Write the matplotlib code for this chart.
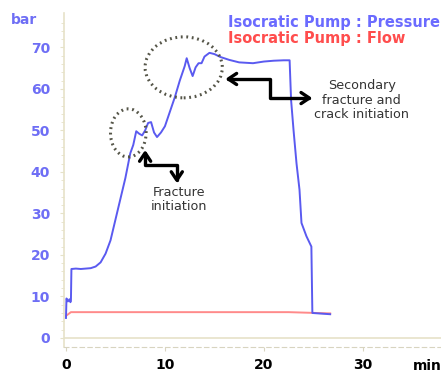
import matplotlib
matplotlib.use("Agg")
import matplotlib.pyplot as plt
from matplotlib.patches import Ellipse, FancyArrowPatch
from matplotlib.path import Path

# ---- data ----
pressure_time = [0.0, 0.05, 0.2, 0.35, 0.45, 0.5, 0.55, 1.0, 1.5, 2.0, 2.5, 3.0, 3.5, 4.0,
                 4.5, 5.0, 5.5, 6.0, 6.5, 6.8, 7.1, 7.4, 7.7, 8.0, 8.3, 8.6, 8.9, 9.2,
                 9.6, 10.0, 10.5, 11.0, 11.5, 12.0, 12.2, 12.5, 12.8, 13.1, 13.4, 13.7,
                 14.0, 14.5, 15.0, 15.6, 16.5, 17.5, 18.9, 20.0, 21.0, 22.0, 22.6, 22.75,
                 23.0, 23.3, 23.6, 23.8, 24.3, 24.8, 24.9, 25.5, 26.7]
pressure_bar = [4.8, 9.5, 8.8, 9.3, 8.6, 9.0, 16.6, 16.7, 16.6, 16.7, 16.8, 17.2, 18.2, 20.3,
                23.5, 28.5, 33.5, 38.5, 44.5, 46.5, 49.8, 49.2, 48.8, 50.0, 51.8, 52.0, 49.5, 48.4,
                49.5, 51.0, 54.5, 58.0, 62.0, 65.5, 67.4, 65.0, 63.1, 65.2, 66.2, 66.2,
                67.8, 68.7, 68.4, 67.7, 67.0, 66.4, 66.2, 66.6, 66.8, 66.9, 66.9, 57.3,
                50.0, 42.0, 35.7, 27.7, 24.5, 22.0, 6.0, 5.9, 5.7]
flow_time = [0.0, 0.5, 22.5, 26.7]
flow_value = [5.3, 6.2, 6.2, 5.9]
y_ticks = [0, 10, 20, 30, 40, 50, 60, 70]
x_ticks = [0, 10, 20, 30]
legend_labels = ["Isocratic Pump : Pressure", "Isocratic Pump : Flow"]

W, H = 441, 374
fig = plt.figure(figsize=(W / 100, H / 100), dpi=100)
ax = fig.add_axes([64 / W, 1 - 347 / H, 377 / W, 334 / H])

blue = "#5a5af0"
tick_blue = "#6e6ef5"
red = "#ff8a8a"
beige = "#e6e2c8"

ax.plot(flow_time, flow_value, color=red, lw=1.4, zorder=2)
ax.plot(pressure_time, pressure_bar, color=blue, lw=1.4, zorder=3)
ax.axhline(0, color=beige, lw=1.2, zorder=1)

ax.set_xlim(-0.2, 37.9)
ax.set_ylim(-2.2, 78.3)

for s in ["top", "right"]:
    ax.spines[s].set_visible(False)
ax.spines["left"].set_color(beige)
ax.spines["left"].set_linewidth(1.2)
ax.spines["bottom"].set_color("#d8d4c0")
ax.spines["bottom"].set_linestyle((0, (4, 3)))
ax.spines["bottom"].set_linewidth(0.8)

ax.set_yticks(y_ticks)
ax.set_yticklabels([str(v) for v in y_ticks], color=tick_blue, fontweight="bold", fontsize=10)
ax.set_xticks(x_ticks)
ax.set_xticklabels([str(v) for v in x_ticks], color="black", fontweight="bold", fontsize=10)
ax.tick_params(axis="y", length=3, color=beige, pad=7)
ax.tick_params(axis="x", length=3, color="#d8d4c0", pad=5)
ax.set_yticks([v + 2 * k for v in y_ticks[:-1] for k in range(1, 5)] + [72, 74, 76], minor=True)
ax.tick_params(axis="y", which="minor", length=2, color=beige)

fig.text(11 / W, 1 - 20 / H, "bar", color=tick_blue, fontweight="bold", fontsize=10, va="center")
fig.text(427 / W, 1 - 366 / H, "min", color="black", fontweight="bold", fontsize=10,
         va="center", ha="center")

fig.text(228 / W, 1 - 23 / H, legend_labels[0], color="#6b6bff", fontweight="bold",
         fontsize=10.5, va="center")
fig.text(228 / W, 1 - 38 / H, legend_labels[1], color="#ff4d4d", fontweight="bold",
         fontsize=10.5, va="center")

# annotation ellipses
for (cx, cy, w, h) in [(6.3, 49.4, 3.6, 11.6), (11.9, 65.2, 7.8, 14.7)]:
    ax.add_patch(Ellipse((cx, cy), w, h, fill=False, edgecolor="#555548",
                         lw=2.2, linestyle=(0, (0.6, 1.2)), zorder=4))

# bent double arrows
arrow_paths = [
    [(8.0, 45.3), (8.0, 41.7), (11.2, 41.7), (11.2, 37.3)],
    [(16.1, 62.4), (20.6, 62.4), (20.6, 57.8), (24.9, 57.8)],
]
for verts in arrow_paths:
    codes = [Path.MOVETO] + [Path.LINETO] * (len(verts) - 1)
    arr = FancyArrowPatch(path=Path(verts, codes), arrowstyle="<->,head_length=6,head_width=4",
                          color="black", lw=2.4, transform=ax.transData, zorder=5,
                          shrinkA=0, shrinkB=0)
    ax.add_patch(arr)

ax.text(11.4, 33.3, "Fracture\ninitiation", ha="center", va="center", fontsize=9.2,
        color="#333333", linespacing=1.15)
ax.text(29.9, 57.3, "Secondary\nfracture and\ncrack initiation", ha="center", va="center",
        fontsize=9.2, color="#333333", linespacing=1.15)

fig.savefig("out.png", dpi=100)
